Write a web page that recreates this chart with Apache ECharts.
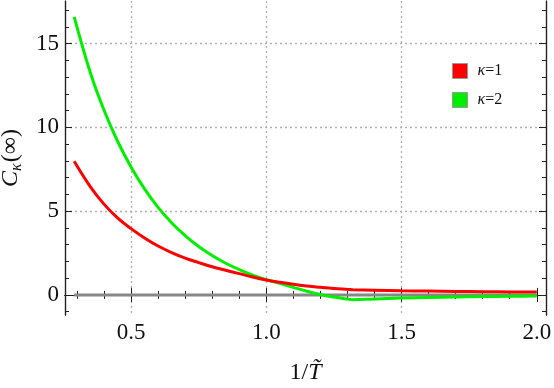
<!DOCTYPE html>
<html>
<head>
<meta charset="utf-8">
<script src="https://cdn.jsdelivr.net/npm/echarts@6/dist/echarts.min.js"></script>
<style>
html,body{margin:0;padding:0;background:#fff;}
#c{width:554px;height:388px;}
</style>
</head>
<body>
<div id="c"></div>
<script>
// x values (1/T~)
var xs = [0.29,0.35,0.40,0.45,0.50,0.55,0.60,0.65,0.70,0.75,0.80,0.85,0.90,0.95,1.00,1.05,1.10,1.15,1.20,1.25,1.30,1.32,1.40,1.50,1.60,1.70,1.80,1.90,2.00];
// kappa = 1
var k1 = [7.98,6.45,5.42,4.6,3.96,3.4,2.92,2.53,2.2,1.93,1.68,1.47,1.27,1.07,0.89,0.75,0.63,0.53,0.45,0.38,0.33,0.31,0.28,0.25,0.23,0.21,0.19,0.18,0.17];
// kappa = 2
var k2 = [16.6,13.25,11.04,9.19,7.64,6.33,5.23,4.31,3.54,2.89,2.35,1.89,1.51,1.18,0.91,0.69,0.45,0.22,0.02,-0.13,-0.25,-0.29,-0.24,-0.19,-0.15,-0.12,-0.10,-0.08,-0.07];
var zeroLine = [0, 0];
var xMajor = [0.5, 1.0, 1.5, 2.0];
var xMinor = [0.3,0.4,0.6,0.7,0.8,0.9,1.1,1.2,1.3,1.4,1.6,1.7,1.8,1.9];
var yMajor = [0, 5, 10, 15];
var yMinor = [-1,1,2,3,4,6,7,8,9,11,12,13,14,16,17];
var yGrid = [5, 10, 15];
var xGrid = [0.5, 1.0, 1.5];
var names = ['κ=1', 'κ=2'];

var XMIN = 0.256, XMAX = 2.034, YMIN = -1.2, YMAX = 17.55;
var FONT = 'Liberation Serif';
var frame = {show: true, lineStyle: {color: '#222', width: 1.2}};
var tickRich = {t: {fontFamily: FONT, fontSize: 23, color: '#111'}};

function xAxisDef(pos, vals, len, labels) {
  return {
    type: 'value', position: pos, offset: 0, min: XMIN, max: XMAX,
    axisLine: frame,
    axisTick: {show: true, inside: true, length: len, customValues: vals, lineStyle: {color: '#222', width: 1}},
    axisLabel: labels ? {show: true, customValues: vals, margin: 6, fontFamily: FONT, fontSize: 23, color: '#111',
      rich: tickRich, formatter: function(v){ return '{t|' + v.toFixed(1) + '}'; }} : {show: false},
    splitLine: {show: false}
  };
}
function yAxisDef(pos, vals, len, labels) {
  return {
    type: 'value', position: pos, offset: 0, min: YMIN, max: YMAX,
    axisLine: frame,
    axisTick: {show: true, inside: true, length: len, customValues: vals, lineStyle: {color: '#222', width: 1}},
    axisLabel: labels ? {show: true, customValues: vals, margin: 6, fontFamily: FONT, fontSize: 23, color: '#111',
      rich: tickRich, formatter: function(v){ return '{t|' + v + '}'; }} : {show: false},
    splitLine: {show: false}
  };
}

var xAxes = [
  xAxisDef('bottom', xMajor, 7, true),
  xAxisDef('bottom', xMinor, 4, false),
  xAxisDef('top', xMajor, 7, false),
  xAxisDef('top', xMinor, 4, false),
  {type: 'value', position: 'bottom', offset: 0, min: XMIN, max: XMAX, axisLine: {show: false},
   axisTick: {show: false, customValues: xGrid}, axisLabel: {show: false},
   splitLine: {show: true, lineStyle: {color: '#b0b0b0', type: [2, 3], width: 1.3}}}
];
xAxes[0].name = '{n|1/}{i|T\u0303}';
xAxes[0].nameLocation = 'middle';
xAxes[0].nameGap = 46;
xAxes[0].nameTextStyle = {rich: {
  n: {fontFamily: FONT, fontSize: 24, color: '#111'},
  i: {fontFamily: FONT, fontStyle: 'italic', fontSize: 24, color: '#111'}
}};

var yAxes = [
  yAxisDef('left', yMajor, 7, true),
  yAxisDef('left', yMinor, 4, false),
  yAxisDef('right', yMajor, 7, false),
  yAxisDef('right', yMinor, 4, false),
  {type: 'value', position: 'left', offset: 0, min: YMIN, max: YMAX, axisLine: {show: false},
   axisTick: {show: false, customValues: yGrid}, axisLabel: {show: false},
   splitLine: {show: true, lineStyle: {color: '#b0b0b0', type: [2, 3], width: 1.3}}}
];
yAxes[0].name = '{i|C}{s|κ}{n|(∞)}';
yAxes[0].nameLocation = 'middle';
yAxes[0].nameGap = 40;
yAxes[0].nameTextStyle = {rich: {
  i: {fontFamily: FONT, fontStyle: 'italic', fontSize: 24, color: '#111'},
  s: {fontFamily: FONT, fontStyle: 'italic', fontSize: 16, color: '#111', padding: [12, 1, 0, 0]},
  n: {fontFamily: FONT, fontSize: 24, color: '#111'}
}};

function pairs(a) { return xs.map(function(x, i){ return [x, a[i]]; }); }

var chart = echarts.init(document.getElementById('c'), null, {renderer: 'canvas'});
chart.setOption({
  animation: false,
  backgroundColor: '#fff',
  textStyle: {fontFamily: FONT},
  grid: {left: 65, right: 8, top: 1, bottom: 73, containLabel: false, outerBoundsMode: 'none'},
  xAxis: xAxes,
  yAxis: yAxes,
  legend: {
    data: names, orient: 'vertical', left: 452, top: 63, itemGap: 13, padding: 0,
    icon: 'rect', itemWidth: 15, itemHeight: 15,
    itemStyle: {borderColor: '#999', borderWidth: 1},
    textStyle: {fontFamily: FONT, fontSize: 16, color: '#111', lineHeight: 16,
      rich: {i: {fontFamily: FONT, fontStyle: 'italic', fontSize: 16, color: '#111', lineHeight: 16, padding: [0, 0, 0, 5]},
             n: {fontFamily: FONT, fontSize: 16, color: '#111', lineHeight: 16}}},
    formatter: function(n){ return '{i|κ}{n|' + n.slice(1) + '}'; }
  },
  series: [
    {type: 'line', name: 'zero', data: [[xs[0], zeroLine[0]], [xs[xs.length-1], zeroLine[1]]],
     showSymbol: false, silent: true, lineStyle: {color: '#888', width: 3}, z: 1},
    {type: 'line', name: names[0], data: pairs(k1), smooth: 0.4, showSymbol: false,
     color: '#ff0000', lineStyle: {color: '#ff0000', width: 3}, z: 3},
    {type: 'line', name: names[1], data: pairs(k2), smooth: 0.4, showSymbol: false,
     color: '#00ee00', lineStyle: {color: '#00f000', width: 3}, z: 2}
  ]
});
</script>
</body>
</html>
